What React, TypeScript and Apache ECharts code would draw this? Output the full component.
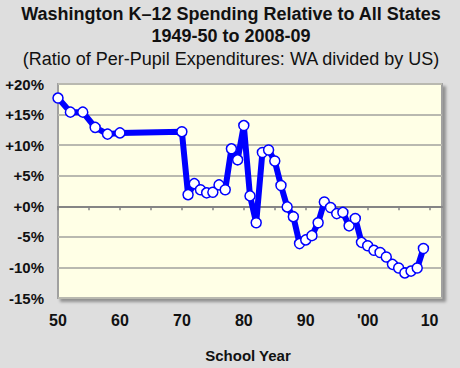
import React, { useEffect, useRef } from "react";
import * as echarts from "echarts";

const years: number[] = [
  1950, 1952, 1954, 1956, 1958, 1960, 1970, 1971, 1972, 1973, 1974, 1975, 1976, 1977, 1978, 1979,
  1980, 1981, 1982, 1983, 1984, 1985, 1986, 1987, 1988, 1989, 1990, 1991, 1992, 1993, 1994, 1995,
  1996, 1997, 1998, 1999, 2000, 2001, 2002, 2003, 2004, 2005, 2006, 2007, 2008, 2009,
];
const ratioPct: number[] = [
  17.7, 15.4, 15.4, 12.9, 11.8, 12.0, 12.2, 1.9, 3.7, 2.7, 2.2, 2.3, 3.5, 2.7, 9.4, 7.6,
  13.2, 1.7, -2.7, 8.8, 9.2, 7.4, 3.4, -0.1, -1.7, -6.1, -5.5, -4.8, -2.7, 0.7, -0.2, -1.2,
  -1.0, -3.2, -2.0, -5.9, -6.45, -7.2, -7.55, -8.3, -9.5, -10.1, -10.9, -10.6, -10.1, -6.9,
];
const xTickValues: number[] = [1950, 1955, 1960, 1965, 1970, 1975, 1980, 1985, 1990, 1995, 2000, 2005, 2010];
const xLabelValues: number[] = [1950, 1960, 1970, 1980, 1990, 2000, 2010];
const titleLines: string[] = [
  "Washington K\u201312 Spending Relative to All States",
  "1949-50 to 2008-09",
  "(Ratio of Per-Pupil Expenditures: WA divided by US)",
];
const xAxisTitle = "School Year";

const FONT = '"Liberation Sans", Arial, sans-serif';

export default function App() {
  const ref = useRef<HTMLDivElement>(null);
  useEffect(() => {
    if (!ref.current) return;
    const chart = echarts.init(ref.current, undefined, { renderer: "svg" });
    const xLabel = (v: number) => {
      const yy = v % 100;
      if (yy === 0) return "'00";
      return String(yy).padStart(2, "0");
    };
    chart.setOption({
      animation: false,
      backgroundColor: "#DEDEDE",
      textStyle: { fontFamily: FONT },
      graphic: [
        {
          type: "text",
          x: 231,
          y: 14,
          style: {
            text: titleLines[0],
            font: `bold 18px ${FONT}`,
            fill: "#111",
            textAlign: "center",
            textVerticalAlign: "middle",
          },
        },
        {
          type: "text",
          x: 231,
          y: 36,
          style: {
            text: titleLines[1],
            font: `bold 18px ${FONT}`,
            fill: "#111",
            textAlign: "center",
            textVerticalAlign: "middle",
          },
        },
        {
          type: "text",
          x: 231,
          y: 59,
          style: {
            text: titleLines[2],
            font: `18px ${FONT}`,
            fill: "#111",
            textAlign: "center",
            textVerticalAlign: "middle",
          },
        },
        {
          type: "text",
          x: 248,
          y: 355,
          style: {
            text: xAxisTitle,
            font: `bold 15px ${FONT}`,
            fill: "#111",
            textAlign: "center",
            textVerticalAlign: "middle",
          },
        },
      ],
      grid: {
        left: 58,
        right: 18,
        top: 84,
        bottom: 70,
        show: true,
        backgroundColor: "#FFFFE6",
        borderColor: "#A0A0A0",
        borderWidth: 2,
        shadowColor: "rgba(0,0,0,0.35)",
        shadowBlur: 3,
        shadowOffsetX: 3,
        shadowOffsetY: 3,
      },
      xAxis: [
        {
          type: "value",
          min: 1950,
          max: 2012,
          position: "bottom",
          axisLine: { show: false, onZero: false },
          axisTick: { show: false },
          splitLine: { show: false },
          axisLabel: {
            customValues: xLabelValues,
            formatter: xLabel,
            margin: 14,
            fontSize: 16,
            fontWeight: "bold",
            color: "#111",
            fontFamily: FONT,
          },
        },
        {
          type: "value",
          min: 1950,
          max: 2012,
          position: "bottom",
          axisLine: {
            show: true,
            onZero: true,
            onZeroAxisIndex: 0,
            lineStyle: { color: "#858585", width: 2 },
          },
          axisTick: {
            show: true,
            customValues: xTickValues,
            length: 4,
            lineStyle: { color: "#858585", width: 1.5 },
          },
          axisLabel: { show: false },
          splitLine: { show: false },
        },
      ],
      yAxis: {
        type: "value",
        min: -15,
        max: 20,
        interval: 5,
        axisLine: { show: false },
        axisTick: { show: false },
        splitLine: { show: true, lineStyle: { color: "#B9B9B0", width: 2 } },
        axisLabel: {
          margin: 14,
          fontSize: 15,
          fontWeight: "bold",
          color: "#111",
          fontFamily: FONT,
          formatter: (v: number) => (v >= 0 ? `+${v}%` : `${v}%`),
        },
      },
      series: [
        {
          type: "line",
          xAxisIndex: 0,
          data: years.map((y, i) => [y, ratioPct[i]]),
          lineStyle: { color: "#0000FF", width: 6 },
          symbol: "circle",
          symbolSize: 10,
          itemStyle: { color: "#FFFFFF", borderColor: "#0000FF", borderWidth: 1.5 },
          z: 5,
        },
      ],
    });
    return () => chart.dispose();
  }, []);
  return <div ref={ref} style={{ position: "absolute", left: 0, top: 0, width: 460, height: 368 }} />;
}
